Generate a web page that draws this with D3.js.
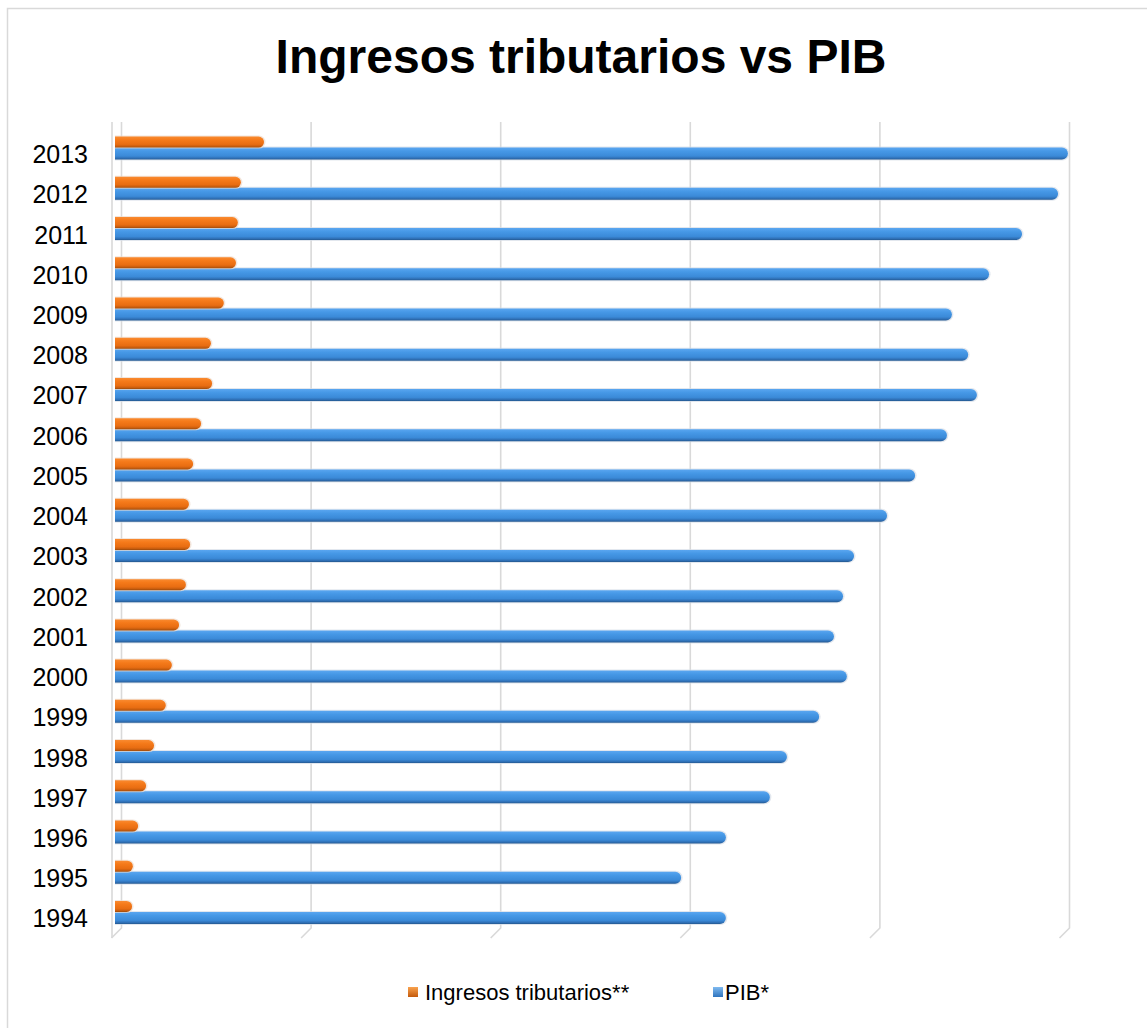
<!DOCTYPE html>
<html>
<head>
<meta charset="utf-8">
<script src="https://cdn.jsdelivr.net/npm/d3@7"></script>
<style>
  html, body { margin: 0; padding: 0; background: #fff; }
  svg { display: block; }
  text { font-family: "Liberation Sans", Arial, sans-serif; }
</style>
</head>
<body>
<svg id="chart" width="1147" height="1028"></svg>
<script>
// ---- data ----
const years = ["1994","1995","1996","1997","1998","1999","2000","2001","2002","2003",
               "2004","2005","2006","2007","2008","2009","2010","2011","2012","2013"];
const ingresosTributarios = [4.5, 4.7, 6.1, 8.2, 10.3, 13.4, 15.0, 16.9, 18.7, 19.8,
                             19.5, 20.6, 22.7, 25.6, 25.3, 28.7, 31.9, 32.4, 33.2, 39.3];
const pib = [161.1, 149.3, 161.1, 172.7, 177.2, 185.7, 193.0, 189.6, 192.0, 194.9,
             203.6, 211.0, 219.4, 227.3, 225.0, 220.7, 230.5, 239.2, 248.7, 251.3];
const xTicks = [0, 50, 100, 150, 200, 250];
const seriesNames = ["Ingresos tributarios**", "PIB*"];

// ---- drawing ----
const svg = d3.select("#chart");
const W = 1147, H = 1028;

svg.append("rect").attr("x", 7.5).attr("y", 8.5).attr("width", W + 20).attr("height", H + 20)
  .attr("fill", "#fff").attr("stroke", "#d9d9d9").attr("stroke-width", 1.5);

const defs = svg.append("defs");
function grad(id, stops) {
  const g = defs.append("linearGradient").attr("id", id)
    .attr("x1", 0).attr("y1", 0).attr("x2", 0).attr("y2", 1);
  stops.forEach(s => g.append("stop").attr("offset", s[0]).attr("stop-color", s[1]));
}
grad("gOrange", [[0, "#f98a30"], [0.3, "#f57a1a"], [0.7, "#e86d12"], [0.88, "#c85d0e"], [1, "#9a4a0c"]]);
grad("gBlue", [[0, "#5aa6f0"], [0.3, "#4698e6"], [0.7, "#3b8ad8"], [0.88, "#2f70b6"], [1, "#24588f"]]);
grad("gOrangeLeg", [[0, "#f9a24e"], [1, "#c45a0c"]]);
grad("gBlueLeg", [[0, "#7fbaf0"], [1, "#2f74be"]]);

svg.append("text").attr("x", 581).attr("y", 73).attr("text-anchor", "middle")
  .attr("font-size", 48).attr("font-weight", "bold").attr("fill", "#000")
  .text("Ingresos tributarios vs PIB");

const x = d3.scaleLinear().domain([0, 250]).range([115, 1063]);
const depth = 6.5;
const y = d3.scaleBand().domain(years.slice().reverse()).range([128, 932.6]).padding(0);

const gridTop = 122, gridBottom = 928;
const grid = svg.append("g").attr("stroke", "#d9d9d9").attr("stroke-width", 1.6).attr("fill", "none");
// left wall front edge
grid.append("line").attr("x1", x(0) - 3).attr("x2", x(0) - 3)
  .attr("y1", gridTop).attr("y2", gridBottom + 10);
xTicks.forEach(t => {
  const gx = x(t) + depth;
  grid.append("path")
    .attr("d", `M${gx},${gridTop} L${gx},${gridBottom} L${gx - 10},${gridBottom + 10}`);
});

function barPath(x0, x1, y0, h) {
  const r = h / 2;
  const xe = Math.max(x0, x1 - r);
  return `M${x0},${y0} L${xe},${y0} A${r},${r} 0 0 1 ${xe},${y0 + h} L${x0},${y0 + h} Z`;
}

const bars = svg.append("g");
years.forEach((yr, i) => {
  const c = y(yr) + y.bandwidth() / 2;
  // halo
  bars.append("path").attr("d", barPath(x(0), x(pib[i]) + 1.5, c - 1.5, 14))
    .attr("fill", "#d5dde7").attr("opacity", 0.7);
  bars.append("path").attr("d", barPath(x(0), x(pib[i]), c - 0.5, 12))
    .attr("fill", "url(#gBlue)");
  bars.append("path").attr("d", barPath(x(0), x(ingresosTributarios[i]) + 1.5, c - 12.5, 13))
    .attr("fill", "#ecdccf").attr("opacity", 0.7);
  bars.append("path").attr("d", barPath(x(0), x(ingresosTributarios[i]), c - 11.5, 11))
    .attr("fill", "url(#gOrange)");
});

const labels = svg.append("g").attr("font-size", 25).attr("fill", "#000").attr("text-anchor", "end");
years.forEach(yr => {
  labels.append("text").attr("x", 88).attr("y", y(yr) + y.bandwidth() / 2 + 6)
    .attr("dy", "0.36em").text(yr);
});

// legend
const leg = svg.append("g").attr("font-size", 22).attr("fill", "#000");
leg.append("rect").attr("x", 408).attr("y", 987).attr("width", 10).attr("height", 10)
  .attr("fill", "url(#gOrangeLeg)");
leg.append("text").attr("x", 425).attr("y", 1000).text(seriesNames[0]);
leg.append("rect").attr("x", 713).attr("y", 987).attr("width", 10).attr("height", 10)
  .attr("fill", "url(#gBlueLeg)");
leg.append("text").attr("x", 725).attr("y", 1000).text(seriesNames[1]);
</script>
</body>
</html>
